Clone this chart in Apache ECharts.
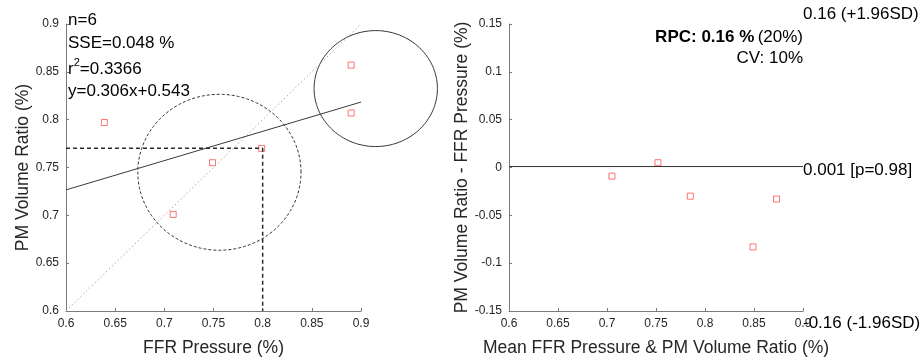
<!DOCTYPE html>
<html>
<head>
<meta charset="utf-8">
<script src="https://cdn.jsdelivr.net/npm/echarts@6/dist/echarts.min.js"></script>
<style>html,body{margin:0;padding:0;background:#fff}#c{width:923px;height:362px}</style>
</head>
<body>
<div id="c"></div>
<script>
// ---- data ----
const ffrPressure = [0.639, 0.799, 0.749, 0.890, 0.890, 0.709];
const pmVolume    = [0.797, 0.770, 0.755, 0.857, 0.807, 0.701];
const fitX = [0.6, 0.9];
const fitY = [0.7266, 0.8184];
const identityX = [0.6, 0.9];
const identityY = [0.6, 0.9];
const cutX = [0.6, 0.8, 0.8];
const cutY = [0.77, 0.77, 0.6];
const dashedCircle = [0.756, 0.745, 0.083, 0.0815]; // cx, cy, rx, ry
const solidCircle  = [0.915, 0.8325, 0.0627, 0.0606];
const baMean = [0.718, 0.785, 0.752, 0.873, 0.849, 0.705];
const baDiff = [0.158, -0.030, 0.005, -0.033, -0.083, -0.009];
const meanDiff = 0.001;

const zip = (a, b) => a.map((v, i) => [v, b[i]]);

const FONT = 'Liberation Sans, Arial, sans-serif';
const TXT = '#262626';
const AX = '#7a7a7a';

function axisBase(extra) {
  return Object.assign({
    axisLine: {show: true, onZero: false, lineStyle: {color: AX, width: 1}},
    axisTick: {show: true, inside: true, length: 3, lineStyle: {color: AX}},
    splitLine: {show: false},
    axisLabel: {color: TXT, fontSize: 12, fontFamily: FONT, margin: 7,
      formatter: v => String(Math.round(v * 1000) / 1000)},
    nameLocation: 'middle',
    nameTextStyle: {color: TXT, fontSize: 17.5, fontFamily: FONT}
  }, extra);
}

function ellipseSeries(p, dash) {
  return {
    type: 'custom', xAxisIndex: 0, yAxisIndex: 0, clip: false, silent: true,
    data: [p],
    renderItem: function (params, api) {
      const pts = [];
      for (let i = 0; i <= 160; i++) {
        const t = i / 160 * 2 * Math.PI;
        pts.push(api.coord([p[0] + p[2] * Math.cos(t), p[1] + p[3] * Math.sin(t)]));
      }
      return {type: 'polyline', shape: {points: pts},
        style: {stroke: '#333', lineWidth: 1, fill: null, lineDash: dash}};
    }
  };
}

const chart = echarts.init(document.getElementById('c'), null, {renderer: 'canvas'});
const markerStyle = {color: 'rgba(0,0,0,0)', borderColor: '#ff5050', borderWidth: 1};

chart.setOption({
  animation: false,
  grid: [
    {left: 66, top: 24, width: 295, height: 291},
    {left: 509, top: 24, width: 294, height: 291}
  ],
  xAxis: [
    axisBase({gridIndex: 0, type: 'value', min: 0.6, max: 0.9, interval: 0.05,
      name: 'FFR Pressure (%)', nameGap: 28}),
    axisBase({gridIndex: 1, type: 'value', min: 0.6, max: 0.9, interval: 0.05,
      name: 'Mean FFR Pressure & PM Volume Ratio (%)', nameGap: 28})
  ],
  yAxis: [
    axisBase({gridIndex: 0, type: 'value', min: 0.6, max: 0.9, interval: 0.05,
      name: 'PM Volume Ratio (%)', nameGap: 32}),
    axisBase({gridIndex: 1, type: 'value', min: -0.15, max: 0.15, interval: 0.05,
      name: 'PM Volume Ratio - FFR Pressure (%)', nameGap: 36})
  ],
  series: [
    {type: 'line', xAxisIndex: 0, yAxisIndex: 0, data: zip(identityX, identityY),
      showSymbol: false, lineStyle: {color: '#a8a8a8', width: 1, type: [1.5, 2.5]}, silent: true},
    {type: 'line', xAxisIndex: 0, yAxisIndex: 0, data: zip(fitX, fitY),
      showSymbol: false, lineStyle: {color: '#3a3a3a', width: 1}, silent: true},
    {type: 'line', xAxisIndex: 0, yAxisIndex: 0, data: zip(cutX, cutY),
      showSymbol: false, lineStyle: {color: '#2a2a2a', width: 1.5, type: [4, 3]}, silent: true},
    ellipseSeries(dashedCircle, [3, 2]),
    ellipseSeries(solidCircle, null),
    {type: 'scatter', xAxisIndex: 0, yAxisIndex: 0, data: zip(ffrPressure, pmVolume),
      symbol: 'rect', symbolSize: 6, itemStyle: markerStyle},
    {type: 'line', xAxisIndex: 1, yAxisIndex: 1, data: [[0.6, meanDiff], [0.9, meanDiff]],
      showSymbol: false, lineStyle: {color: '#333', width: 1}, silent: true},
    {type: 'scatter', xAxisIndex: 1, yAxisIndex: 1, data: zip(baMean, baDiff), clip: true,
      symbol: 'rect', symbolSize: 6, itemStyle: markerStyle}
  ],
  graphic: [
    {type: 'text', left: 68, top: 12, style: {text: 'n=6', fontSize: 17, fontFamily: FONT, fill: '#000'}},
    {type: 'text', left: 68, top: 35, style: {text: 'SSE=0.048 %', fontSize: 17, fontFamily: FONT, fill: '#000'}},
    {type: 'text', left: 68, top: 57, style: {
      text: '{a|r}{s|2}{a|=0.3366}', fill: '#000',
      rich: {a: {fontSize: 17, fontFamily: FONT, fill: '#000', verticalAlign: 'bottom', lineHeight: 21},
             s: {fontSize: 11, fontFamily: FONT, fill: '#000', verticalAlign: 'top', lineHeight: 21, padding: [0,0,8,0]}}}},
    {type: 'text', left: 68, top: 83, style: {text: 'y=0.306x+0.543', fontSize: 17, fontFamily: FONT, fill: '#000'}},
    {type: 'text', right: 120, top: 29, style: {
      text: '{b|RPC: 0.16 %} {n|(20%)}', align: 'right',
      rich: {b: {fontSize: 17, fontFamily: FONT, fontWeight: 'bold', fill: '#000'},
             n: {fontSize: 17, fontFamily: FONT, fill: '#000'}}}},
    {type: 'text', right: 120, top: 50, style: {text: 'CV: 10%', fontSize: 17, fontFamily: FONT, fill: '#000'}},
    {type: 'text', left: 803, top: 6, style: {text: '0.16 (+1.96SD)', fontSize: 17, fontFamily: FONT, fill: '#000'}},
    {type: 'text', left: 803, top: 162, style: {text: '0.001 [p=0.98]', fontSize: 17, fontFamily: FONT, fill: '#000'}},
    {type: 'text', left: 803, top: 315, style: {text: '-0.16 (-1.96SD)', fontSize: 17, fontFamily: FONT, fill: '#000'}}
  ]
});
</script>
</body>
</html>
